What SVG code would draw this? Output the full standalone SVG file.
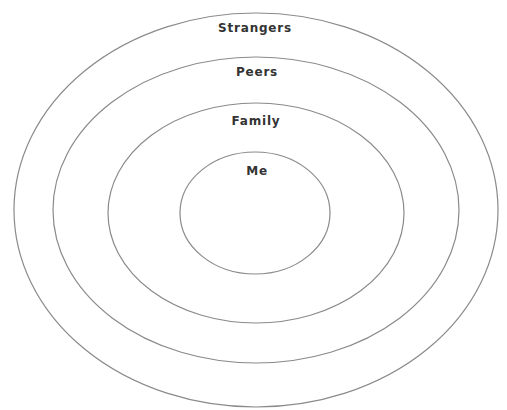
<svg xmlns="http://www.w3.org/2000/svg" width="507" height="410" viewBox="0 0 507 410">
<style>
.ring{fill:none;stroke:#8a8a8a;stroke-width:1.2}
.lbl{font-family:"DejaVu Sans",sans-serif;font-weight:bold;font-size:12px;letter-spacing:0.8px;fill:#333;text-anchor:middle}
</style>
<rect width="507" height="410" fill="#fff"/>
<g id="strangers"><ellipse class="ring" cx="256" cy="210" rx="242" ry="197"/><text class="lbl" x="255" y="32">Strangers</text></g>
<g id="peers"><ellipse class="ring" cx="256" cy="210" rx="203" ry="153"/><text class="lbl" x="257" y="76">Peers</text></g>
<g id="family"><ellipse class="ring" cx="256" cy="213" rx="148" ry="110"/><text class="lbl" x="256" y="125">Family</text></g>
<g id="me"><ellipse class="ring" cx="255" cy="213" rx="75" ry="61"/><text class="lbl" x="257" y="175">Me</text></g>
<g id="connectors"/>
</svg>
